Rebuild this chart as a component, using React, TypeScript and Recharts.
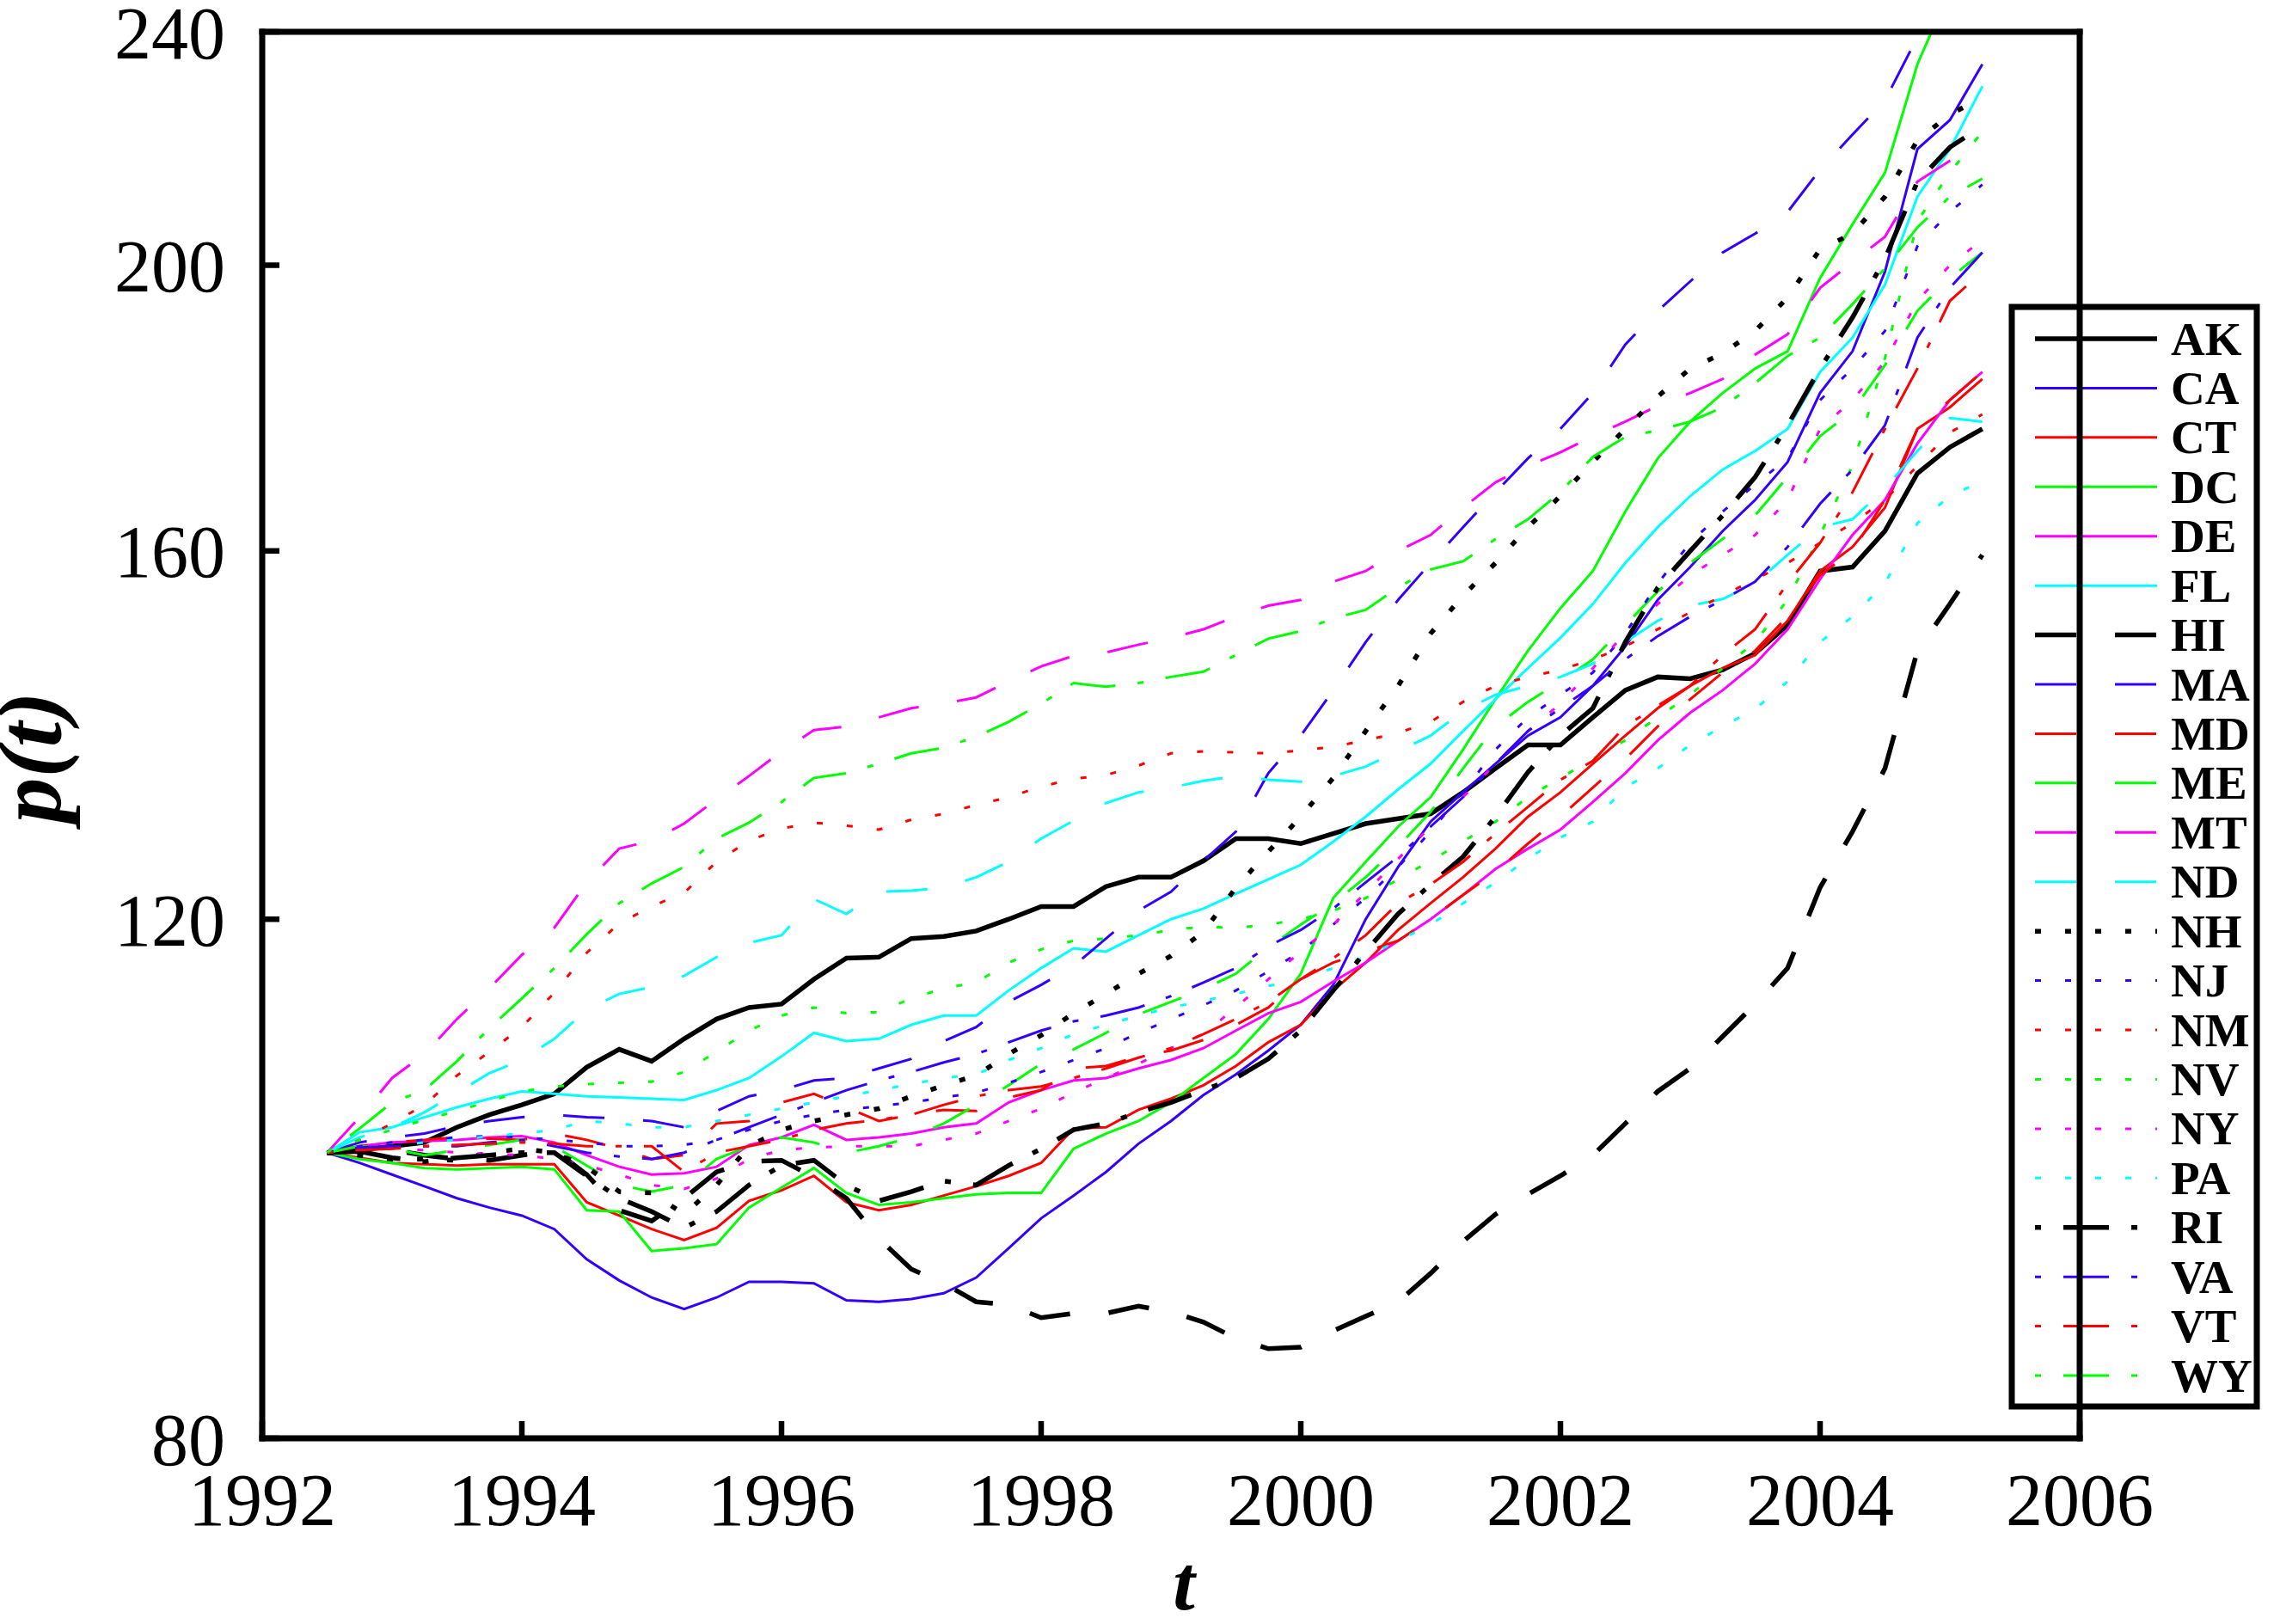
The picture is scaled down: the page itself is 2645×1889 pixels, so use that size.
import React from 'react';
import { LineChart, Line, XAxis, YAxis, Customized } from 'recharts';

// ---- time points (quarters) ----
const QUARTERS = [
  1992.5, 1992.75, 1993, 1993.25, 1993.5, 1993.75, 1994, 1994.25, 1994.5, 1994.75,
  1995, 1995.25, 1995.5, 1995.75, 1996, 1996.25, 1996.5, 1996.75, 1997, 1997.25,
  1997.5, 1997.75, 1998, 1998.25, 1998.5, 1998.75, 1999, 1999.25, 1999.5, 1999.75,
  2000, 2000.25, 2000.5, 2000.75, 2001, 2001.25, 2001.5, 2001.75, 2002, 2002.25,
  2002.5, 2002.75, 2003, 2003.25, 2003.5, 2003.75, 2004, 2004.25, 2004.5, 2004.75,
  2005, 2005.25,
];

// ---- series values p(t) ----
const AK = [100, 100.2, 100.5, 100.8, 102, 103, 103.8, 104.7, 106.9, 108.4, 107.4, 109.3, 111, 112, 112.3, 114.5, 116.4, 116.5, 118.2, 118.4, 118.9, 120, 121.2, 121.2, 123.1, 124, 124, 125.6, 127.8, 127.8, 127.3, 128.3, 129.3, 129.8, 130.3, 132.5, 135, 137.5, 137.5, 140.5, 143.5, 145, 144.8, 145.8, 147.7, 151, 157.5, 158, 162.5, 170, 173.5, 176];
const CA = [100, 99.2, 98.3, 97.4, 96.5, 95.8, 95.2, 94.2, 92, 90.5, 89.3, 88.5, 89.3, 90.4, 90.4, 90.3, 89.1, 89, 89.2, 89.6, 90.7, 92.8, 95, 96.7, 98.5, 100.7, 102.5, 104.6, 106.3, 108.3, 110.5, 114, 120, 125, 129.5, 132.5, 135.5, 138.5, 140.5, 144, 148.5, 154, 158, 162.5, 166.5, 171.5, 181, 187, 199, 219, 224, 234];
const CT = [100, 99.6, 99.2, 99.1, 99, 99.1, 99.1, 99.1, 96.2, 95.2, 94.2, 93.4, 94.3, 96.3, 97.1, 98.2, 96.2, 95.6, 96, 96.7, 97.4, 98.2, 99.2, 101.9, 102, 103.4, 104.3, 105.4, 107, 109, 110.5, 113.5, 116, 119, 121.5, 124, 126.8, 130, 132.5, 135.5, 138.5, 141.5, 144, 146, 147.5, 151.5, 157.5, 160.5, 165.5, 176, 179, 183];
const DC = [100, 99.5, 99.2, 98.8, 98.7, 98.8, 98.9, 98.7, 95.6, 95.5, 92.6, 92.8, 93.1, 95.8, 97.3, 98.8, 96.9, 96, 96.2, 96.5, 96.8, 96.9, 96.9, 100.3, 101.5, 102.5, 104, 106, 108, 111, 115, 122, 125.5, 129, 132, 137, 142.5, 148, 153, 157.5, 165, 172, 177, 181, 184.5, 187, 198, 206.5, 215, 234, 248, 258];
const DE = [100, 100.5, 100.8, 100.9, 101, 101.2, 101.3, 100.8, 99.8, 98.9, 98.3, 98.4, 98.9, 100.6, 101.2, 102.2, 101, 101.2, 101.5, 102, 102.3, 104, 105, 105.8, 106, 106.8, 107.5, 108.5, 110, 111.5, 112.5, 114.3, 116, 118, 120, 122.3, 124.8, 126.8, 128.7, 131.5, 134.5, 138, 141, 143.5, 146.5, 150.5, 156.5, 162, 166.5, 174, 180, 184];
const FL = [100, 101.6, 102, 102.8, 103.6, 104.3, 104.9, 104.7, 104.5, 104.4, 104.3, 104.2, 105, 106, 107.8, 109.8, 109.1, 109.3, 110.5, 111.3, 111.3, 113.5, 115.5, 117.3, 117, 118.5, 120, 121, 122.4, 123.8, 125.2, 127.5, 130, 132.8, 135.5, 139, 142.5, 146, 149.5, 153.5, 158.5, 163, 167, 170.5, 173, 176, 184, 189, 197, 211, 219, 230];
const HI = [100, 100.1, 100.2, 99.8, 99.5, 99.4, 99.8, 100.2, 98.3, 95.6, 94.8, 96.5, 98.5, 99.3, 99.4, 98.1, 96.5, 93.5, 91.3, 90.3, 89, 88.8, 87.9, 88.2, 88.2, 88.7, 88.3, 87.6, 86.5, 85.8, 85.9, 87, 88, 89, 91, 93.3, 95.3, 96.8, 98.2, 99.8, 102.3, 104.9, 106.8, 109.5, 112.3, 115.5, 123, 128.5, 135, 148, 153.5, 159.5];
const MA = [100, 100.8, 101.2, 101.5, 102.1, 102.5, 102.8, 103, 102.8, 102.7, 102.5, 102, 103.3, 104.5, 105, 105.8, 106, 106.8, 107.6, 109.1, 110.3, 112.5, 114, 115.7, 118.2, 120.8, 122.6, 125.6, 128.5, 134.5, 138.5, 143.5, 149, 154, 158.5, 163, 167.5, 172, 176, 181, 188, 193, 197.5, 202, 205, 208.5, 215.5, 221.5, 227.5, 239, 250, 258];
const MD = [100, 100.5, 100.8, 101, 101.2, 101.1, 101, 101.5, 101, 100.3, 99.5, 99.8, 102.3, 102.5, 104, 104.7, 103.6, 102.5, 103, 103.4, 103.3, 104.4, 105, 106.8, 107, 107.8, 108.3, 109.2, 110.5, 112, 114.5, 116, 117, 118, 120, 122.3, 124.5, 127.3, 130, 133, 136, 139.5, 142.5, 145.5, 148, 152, 157, 160, 166.5, 176, 180, 184];
const ME = [100, 100.5, 100.3, 99.8, 100.2, 100.6, 101, 100.5, 99, 97.5, 97, 97.5, 99.5, 100.5, 101.2, 100.8, 100, 100.5, 101.2, 102.3, 103.8, 105.4, 107.2, 108.4, 109.8, 111.4, 112.5, 113.6, 115, 117.4, 119.5, 121.5, 124, 127, 130.5, 135, 139.5, 142.2, 144.5, 147, 151, 155, 158.5, 161.5, 164.5, 169.5, 175, 178.5, 185, 193, 198, 202];
const MT = [100, 102.8, 106, 108, 111, 113.7, 116.7, 119.2, 123.5, 126.8, 127.6, 129.3, 131.8, 134.2, 136.8, 139.1, 139.5, 140.5, 141.5, 142, 142.7, 144.5, 146.2, 147.4, 147.8, 148.7, 149.5, 150.5, 152, 153.3, 154, 156.2, 157.5, 160, 162, 165.5, 168.8, 171, 172.8, 175, 177, 179.2, 181, 183, 186.5, 189.5, 196.5, 200.5, 204.5, 213.5, 217, 220];
const ND = [100, 101.2, 102, 103.2, 104.8, 106.4, 107.5, 109.3, 111.8, 113.2, 113.8, 114.8, 116.5, 117.8, 118.5, 121.9, 120.5, 122.6, 122.7, 123, 124, 125.5, 127.8, 129.6, 131.4, 132.5, 133, 133.7, 134.2, 133.8, 133.6, 134.2, 135.2, 136.8, 138.5, 141.2, 143, 144, 145, 146.5, 149, 151.5, 153.3, 154.1, 156, 159.5, 163, 164, 168, 173, 177.5, 177];
const NH = [100, 99.8, 99.5, 99.5, 99.4, 100, 100.3, 100, 98.9, 97, 96.9, 95.3, 97.5, 100.5, 101.8, 102.5, 103, 103.5, 104.5, 105.4, 106.2, 108, 109.6, 111.5, 113.2, 115, 116.6, 118.8, 123, 126.5, 130, 134, 139, 144, 150, 154.5, 158.5, 163, 167, 171.5, 176, 180.5, 184.5, 186.7, 190, 195, 202.5, 205, 211, 220.5, 225, 228];
const NJ = [100, 100.5, 100.8, 101, 101.2, 101.3, 101.2, 101, 100.8, 100.5, 100.5, 100.6, 101, 101.8, 102.5, 103, 103.4, 103.7, 104, 104.4, 104.8, 105.6, 106.5, 107.5, 108.5, 109.8, 111, 112.2, 113.5, 115.2, 117, 119.5, 122, 125, 128.5, 132.5, 137, 140.5, 143, 145.5, 150, 156, 161, 165, 168.5, 172, 180, 184.5, 190, 203, 208.5, 213];
const NM = [100, 101, 102.3, 103.8, 106.2, 108.2, 110.3, 113.3, 116.9, 119.6, 121.2, 122.5, 125.5, 127.6, 128.8, 129.4, 129.1, 128.7, 129.7, 130.3, 131.2, 132, 133.1, 133.9, 134.3, 135.3, 136.6, 136.8, 136.7, 136.6, 136.9, 137.3, 138, 138.8, 140, 142.2, 144, 145, 145.8, 147, 148.5, 150.5, 152.5, 154.5, 156.5, 158.5, 161, 163.5, 166.5, 171, 175.5, 178];
const NV = [100, 101, 101.8, 102.6, 103.3, 104.1, 104.9, 105.3, 105.5, 105.6, 105.7, 106.5, 108.2, 110, 111.3, 112, 111.5, 111.6, 112.8, 113.7, 114.2, 116, 117.2, 118, 118.2, 118.5, 119, 119.3, 119.2, 119.5, 120, 120.8, 122, 123.8, 125.6, 127.5, 129.5, 132, 134, 136, 138, 140.5, 143, 146, 149, 154, 162, 171, 186, 207, 215, 222];
const NY = [100, 100.2, 100.3, 100.2, 100, 99.9, 99.8, 99.5, 99, 98.3, 97.5, 97.2, 98, 99.5, 100.2, 100.4, 100.5, 100.5, 100.5, 101, 101.5, 102.5, 103.5, 104.8, 106, 107.2, 108.5, 109.7, 112, 114.5, 117, 119.5, 122.5, 125.8, 129, 132, 135.5, 139, 142, 146, 150, 153.5, 157, 159.5, 162, 166.5, 176, 180, 185.5, 194.5, 200, 204];
const PA = [100, 100.3, 100.5, 100.8, 101, 101.3, 101.5, 101.8, 102.5, 102.3, 102, 102, 102.5, 103, 103.5, 104, 104.5, 105, 105.5, 106, 106.3, 107.5, 108.5, 109.7, 110.5, 111.3, 112, 112.6, 113.2, 113.9, 114.5, 115.5, 116.5, 118, 119.5, 121.5, 123.5, 125.8, 127.9, 129.5, 133, 135, 137.5, 139.5, 141.4, 144.5, 149, 152, 156, 163.5, 167, 169];
const RI = [100, 100.1, 99.6, 99.3, 99.6, 99.8, 100, 100, 98.2, 96.5, 95.5, 94.3, 95.5, 97.5, 99, 99.4, 97.5, 96.3, 97, 97.8, 97.5, 99, 100.3, 101.8, 102.3, 103.2, 104, 105, 106, 107.6, 110, 113.5, 117, 120.5, 123.3, 126, 130, 134.6, 138.5, 141.5, 149, 155.5, 160, 164.5, 169.5, 176.5, 184.5, 192, 201, 213.5, 219.3, 223];
const VA = [100, 100.4, 100.5, 100.5, 100.5, 100.8, 101, 100.5, 100, 99.7, 99.5, 100, 101, 102, 103, 104, 105, 105.8, 106.5, 107.3, 108, 109, 110, 110.8, 111.3, 112, 113, 114.2, 115.5, 117.5, 119, 121, 123.5, 126, 129, 132, 135.5, 139, 141.5, 144, 147, 149.7, 152, 154, 156.2, 160.5, 166, 170.5, 176.5, 189, 196.5, 202];
const VT = [100, 100.2, 100.3, 100.5, 100.6, 100.7, 100.8, 100.7, 100.5, 100.5, 100.5, 98.5, 100, 100.5, 101, 101.8, 102.3, 102.6, 103, 103.8, 104.5, 105, 105.3, 106, 106.8, 107.7, 108.5, 109.7, 111, 112.5, 114.5, 116.4, 118.5, 121.5, 123.3, 125.5, 128.3, 131, 133.8, 135.8, 139.5, 141.8, 144, 147.5, 150.5, 156, 161, 167.5, 176, 184.5, 194.5, 199];
const WY = [100, 101.9, 104, 105, 107.4, 110.2, 112.8, 115.5, 118.6, 121.5, 123.4, 125, 127.8, 129.4, 131.5, 134, 134.5, 135.5, 136.6, 137.2, 138.4, 140, 142, 144.3, 143.9, 144.3, 145, 145.6, 147.5, 149.4, 150.3, 151.8, 152.8, 155.5, 157.7, 158.7, 161.5, 164, 167.5, 172.2, 174.9, 175.8, 177, 179, 182.4, 186.3, 189, 194, 199.5, 206, 211, 214];

// ---- axis ticks ----
const X_TICKS = [1992, 1994, 1996, 1998, 2000, 2002, 2004, 2006];
const Y_TICKS = [80, 120, 160, 200, 240];

// ---- series names and their value arrays ----
const SERIES_NAMES = ['AK', 'CA', 'CT', 'DC', 'DE', 'FL', 'HI', 'MA', 'MD', 'ME', 'MT', 'ND', 'NH', 'NJ', 'NM', 'NV', 'NY', 'PA', 'RI', 'VA', 'VT', 'WY'];
const SERIES_VALUES = [AK, CA, CT, DC, DE, FL, HI, MA, MD, ME, MT, ND, NH, NJ, NM, NV, NY, PA, RI, VA, VT, WY];

// ---- styles (gnuplot-like: colour cycle x line type) ----
const COLORS = ['#000000', '#3300ff', '#ff0000', '#00ff00', '#ff00ff', '#00ffff'];
const DASHES: (string | undefined)[] = [undefined, '48 45', '7 28', '7 26 53 26'];

const styleFor = (i: number) => {
  const color = COLORS[i % 6];
  const dash = DASHES[Math.floor(i / 6)];
  const width = color === '#000000' ? 5.5 : 3;
  return { color, dash, width };
};

const SERIES = SERIES_NAMES.map((name, i) => ({
  name,
  data: QUARTERS.map((t, k) => ({ t, v: SERIES_VALUES[i][k] })),
  ...styleFor(i),
}));

const SERIF = '"Liberation Serif", "Times New Roman", Times, serif';

// ---- legend & axis titles overlay ----
const LEG = { x: 2340, y: 357, w: 285, h: 1279, row0: 394, step: 57.43, lx1: 2367, lx2: 2509, tx: 2525 };

const Overlay = () => (
  <g>
    <rect x={LEG.x} y={LEG.y} width={LEG.w} height={LEG.h} fill="#ffffff" stroke="#000" strokeWidth={7} />
    {SERIES.map((s, i) => {
      const y = LEG.row0 + i * LEG.step;
      return (
        <g key={s.name}>
          <line x1={LEG.lx1} x2={LEG.lx2} y1={y} y2={y} stroke={s.color} strokeWidth={s.width} strokeDasharray={s.dash} />
          <text x={LEG.tx} y={y} dominantBaseline="central" fontFamily={SERIF} fontWeight="bold" fontSize={55} fill="#000">
            {s.name}
          </text>
        </g>
      );
    })}
    <text
      x={34}
      y={881}
      transform="rotate(-90 34 881)"
      textAnchor="middle"
      dominantBaseline="central"
      fontFamily={SERIF}
      fontWeight="bold"
      fontStyle="italic"
      fontSize={106}
      fill="#000"
    >
      p(t)
    </text>
    <text x={1377} y={1872} textAnchor="middle" fontFamily={SERIF} fontWeight="bold" fontStyle="italic" fontSize={92} fill="#000">
      t
    </text>
  </g>
);

const axisLine = { stroke: '#000', strokeWidth: 7, strokeLinecap: 'square' as const };
const tickLine = { stroke: '#000', strokeWidth: 6.5 };
const tickFont = { fontSize: 86, fontFamily: SERIF, fill: '#000' };

export default function App() {
  return (
    <div style={{ position: 'absolute', left: 0, top: 0, width: 2645, height: 1889, background: '#fff' }}>
      <LineChart width={2645} height={1889} margin={{ top: 36, right: 225, bottom: 0, left: 0 }}>
        <XAxis
          xAxisId="bottom"
          dataKey="t"
          type="number"
          domain={[1992, 2006]}
          ticks={X_TICKS}
          interval={0}
          allowDataOverflow
          height={216}
          tickSize={-20}
          tickMargin={60}
          tick={tickFont}
          axisLine={axisLine}
          tickLine={tickLine}
        />
        <XAxis
          xAxisId="top"
          orientation="top"
          dataKey="t"
          type="number"
          domain={[1992, 2006]}
          ticks={X_TICKS}
          interval={0}
          allowDataOverflow
          height={1}
          tickSize={-20}
          tick={false}
          axisLine={axisLine}
          tickLine={tickLine}
        />
        <YAxis
          yAxisId="left"
          type="number"
          scale="log"
          domain={[80, 240]}
          ticks={Y_TICKS}
          interval={0}
          allowDataOverflow
          width={305}
          tickSize={-20}
          tickMargin={63}
          tick={tickFont}
          axisLine={axisLine}
          tickLine={tickLine}
        />
        <YAxis
          yAxisId="right"
          orientation="right"
          type="number"
          scale="log"
          domain={[80, 240]}
          ticks={Y_TICKS}
          interval={0}
          allowDataOverflow
          width={1}
          tickSize={-20}
          tick={false}
          axisLine={axisLine}
          tickLine={tickLine}
        />
        {SERIES.map((s) => (
          <Line
            key={s.name}
            xAxisId="bottom"
            yAxisId="left"
            data={s.data}
            dataKey="v"
            name={s.name}
            type="linear"
            stroke={s.color}
            strokeWidth={s.width}
            strokeDasharray={s.dash}
            strokeLinecap="butt"
            strokeLinejoin="miter"
            dot={false}
            activeDot={false}
            isAnimationActive={false}
          />
        ))}
        <Customized component={<Overlay />} />
      </LineChart>
    </div>
  );
}
